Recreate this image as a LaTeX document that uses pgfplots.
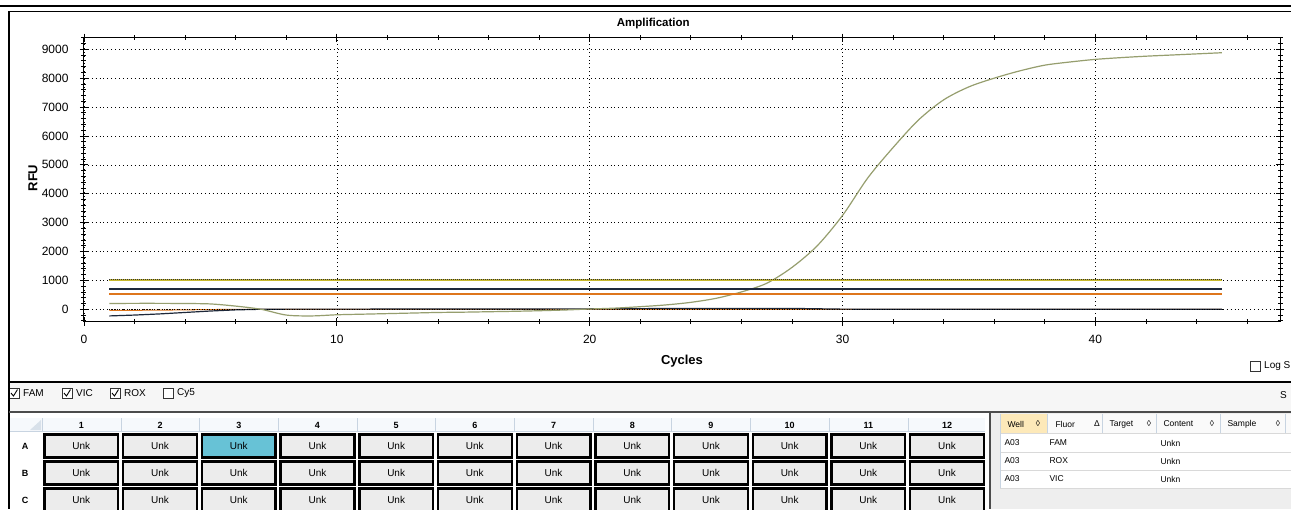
\documentclass[border=0pt]{standalone}
\usepackage{fontspec}
\setmainfont{Liberation Sans}
\usepackage{pgfplots}
\usepackage{pgfplotstable}
\pgfplotsset{compat=1.18}
\definecolor{yelc}{RGB}{200,185,45}
\definecolor{navyc}{RGB}{30,40,58}
\definecolor{orangec}{RGB}{222,118,28}
\definecolor{khaki}{RGB}{150,158,110}
\definecolor{btn}{RGB}{236,236,236}
\definecolor{selc}{RGB}{103,194,214}
\definecolor{hdrbg}{RGB}{246,249,252}
\definecolor{sepc}{RGB}{200,212,225}
\definecolor{wellbg}{RGB}{253,233,185}
\newcommand\ui{\fontsize{10}{12}\selectfont}
\newcommand\hdr{\fontsize{9}{11}\selectfont\bfseries}
\newcommand\tb{\fontsize{8.5}{10}\selectfont}

\pgfplotstableread{
cyc rfu
1 200
2 205
3 205
4 200
5 185
6 110
7 0
8 -200
9 -230
10 -190
11 -170
12 -150
13 -130
14 -110
15 -100
16 -85
17 -70
18 -50
19 -25
20 10
21 40
22 90
23 150
24 240
25 380
26 600
27 900
28 1450
29 2200
30 3250
31 4550
32 5600
33 6550
34 7250
35 7700
36 8000
37 8250
38 8450
39 8560
40 8650
41 8710
42 8760
43 8800
44 8840
45 8880
}\famdata

\pgfplotstableread{
cyc rfu
1 -230
2 -200
3 -160
4 -110
5 -60
6 -20
7 0
8 5
10 5
15 10
20 15
24 30
28 30
30 5
35 0
40 0
45 0
}\navydata

\pgfplotstableread{
cyc rfu
1 -40
2 -35
3 -30
4 -20
5 -10
6 0
7 0
45 0
}\orangedata

\begin{document}
\begin{tikzpicture}
\useasboundingbox (0,0) rectangle (1291pt,-509pt);
\clip (0,0) rectangle (1291pt,-509pt);
\fill[white] (0,0) rectangle (1291pt,-509pt);
\begin{scope}[x=1pt,y=-1pt]
  % checkbox row background
  \fill[gray!7] (9,383) rectangle (1291,412);
  % plate header
  \fill[hdrbg] (10,418) rectangle (985,431);
  \fill[sepc!70] (30,430) -- (41,430) -- (41,420) -- cycle;
  \draw[sepc] (10,431) -- (985,431);
  \foreach \c in {1,...,12}{
    \pgfmathsetmacro\xl{42+(\c-1)*78.7}
    \draw[sepc] (\xl,418) -- (\xl,431);
    \node[font=\hdr] at (\xl+39.35,425) {\c};
    \foreach \ry in {433,460,487}{
      \filldraw[fill=btn, draw=black, line width=2.4pt] (\xl+2.5,\ry+1.5) rectangle (\xl+76.2,\ry+24.5);
      \node[font=\ui] at (\xl+39.35,\ry+13) {Unk};
    }
  }
  \filldraw[fill=selc, draw=black, line width=2.4pt] (201.9,434.5) rectangle (275.6,457.5);
  \node[font=\ui] at (238.75,446) {Unk};
  \node[font=\hdr] at (25,446) {A};
  \node[font=\hdr] at (25,473) {B};
  \node[font=\hdr] at (25,500) {C};
  % right table
  \fill[gray!13] (990,412) rectangle (1291,509);
  \fill[white] (1000,433) rectangle (1291,488);
  \fill[gray!4] (1000,414) rectangle (1291,433);
  \fill[wellbg] (1000,414) rectangle (1047,433);
  \foreach \sx in {1047,1102,1156,1220,1285}{\draw[sepc] (\sx,414) -- (\sx,433);}
  \foreach \sy in {433,452,470,488}{\draw[gray!30] (1000,\sy) -- (1291,\sy);}
  \draw[sepc, line width=0.8pt] (1000,414) -- (1000,488);
  \draw[black!70, line width=2pt] (990,412) -- (990,509);
  \node[font=\tb, anchor=west] at (1004,424) {Well};
  \node[font=\tb, anchor=center] at (1038,424) {◊};
  \node[font=\tb, anchor=west] at (1052,424) {Fluor};
  \node[font=\tb, anchor=center] at (1097,424) {Δ};
  \node[font=\tb, anchor=west] at (1106,424) {Target};
  \node[font=\tb, anchor=center] at (1149,424) {◊};
  \node[font=\tb, anchor=west] at (1160,424) {Content};
  \node[font=\tb, anchor=center] at (1212,424) {◊};
  \node[font=\tb, anchor=west] at (1224,424) {Sample};
  \node[font=\tb, anchor=center] at (1278,424) {◊};
  \node[font=\tb, anchor=west] at (1001,443) {A03};
  \node[font=\tb, anchor=west] at (1046,443) {FAM};
  \node[font=\tb, anchor=west] at (1157,443) {Unkn};
  \node[font=\tb, anchor=west] at (1001,461) {A03};
  \node[font=\tb, anchor=west] at (1046,461) {ROX};
  \node[font=\tb, anchor=west] at (1157,461) {Unkn};
  \node[font=\tb, anchor=west] at (1001,479) {A03};
  \node[font=\tb, anchor=west] at (1046,479) {VIC};
  \node[font=\tb, anchor=west] at (1157,479) {Unkn};
  % checkboxes
  \foreach \bx/\lab/\chk in {9/FAM/1,62/VIC/1,110/ROX/1,163/Cy5/0}{
    \draw[black!80, line width=0.7pt, fill=white] (\bx,388) rectangle (\bx+10,398);
    \ifnum\chk=1 \draw[black, line width=0.9pt] (\bx+2,393) -- (\bx+4.5,396) -- (\bx+8.5,389.5);\fi
    \node[font=\ui, anchor=west, inner sep=0pt] at (\bx+14,393) {\lab};
  }
  \draw[black!80, line width=0.7pt, fill=white] (1250,361) rectangle (1260,371);
  \node[font=\ui, anchor=west, inner sep=0pt] at (1264,366) {Log S};
  \node[font=\ui, anchor=west, inner sep=0pt] at (1280,395) {S};
\end{scope}

\begin{axis}[
  at={(84pt,-321.7pt)}, anchor=south west,
  width=1196pt, height=284pt, scale only axis,
  xmin=0, xmax=47.3, ymin=-430, ymax=9400,
  xtick={0,10,20,30,40}, minor xtick={0,2,...,46},
  ytick={0,1000,...,9000}, minor ytick={-400,-200,...,9400},
  tick align=center, major tick length=8pt, minor tick length=5pt,
  every tick/.style={black, line width=0.8pt},
  xmajorgrids, ymajorgrids,
  major grid style={black, line width=0.6pt, dash pattern=on 0.9pt off 3pt},
  axis line style={black, line width=1pt},
  tick label style={font=\fontsize{12}{14}\selectfont},
  /pgf/number format/assume math mode=true,
  /pgf/number format/set thousands separator={},
  xticklabel style={yshift=-6pt},
  yticklabel style={xshift=-8pt},
  title={\bfseries Amplification},
  title style={at={(axis description cs:0.476,1.055)}, anchor=center, yshift=-7pt, font=\fontsize{11.5}{13}\selectfont},
  xlabel={\bfseries Cycles},
  xlabel style={at={(axis description cs:0.5,-0.138)}, anchor=center, font=\fontsize{13}{15}\selectfont},
  ylabel={\bfseries RFU},
  ylabel style={at={(axis description cs:-0.0426,0.506)}, anchor=center, font=\fontsize{13}{15}\selectfont},
]
\addplot[orangec, line width=1pt, no markers] table[x=cyc,y=rfu] {\orangedata};
\addplot[navyc, line width=1.2pt, no markers] table[x=cyc,y=rfu] {\navydata};
\addplot[black, line width=1pt, dash pattern=on 1pt off 1.5pt, no markers] coordinates {(1,0) (45,0)};
\addplot[khaki, line width=1.2pt, no markers, smooth] table[x=cyc,y=rfu] {\famdata};
\addplot[orangec, line width=1.6pt, no markers] coordinates {(1,520) (45,520)};
\addplot[navyc, line width=1.8pt, no markers] coordinates {(1,700) (45,700)};
\addplot[yelc, line width=1.8pt, no markers] coordinates {(1,1020) (45,1020)};
\addplot[black!80, line width=0.8pt, dash pattern=on 0.8pt off 1.2pt, no markers] coordinates {(1,1020) (45,1020)};
\end{axis}

\begin{scope}[x=1pt,y=-1pt]
  \draw[black, line width=2.5pt] (0,6) -- (1291,6);
  \draw[black, line width=1pt] (9,11) -- (1291,11);
  \draw[black, line width=2pt] (9,11) -- (9,509);
  \draw[black, line width=1.5pt] (9,382) -- (1291,382);
  \draw[black!70, line width=1.2pt] (9,412) -- (1291,412);
\end{scope}
\end{tikzpicture}
\end{document}
